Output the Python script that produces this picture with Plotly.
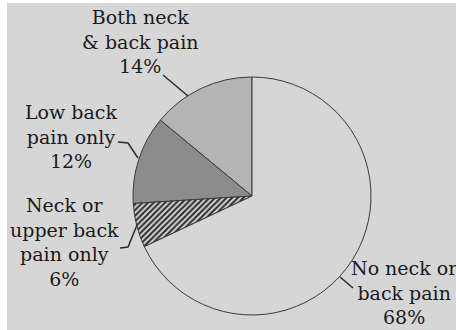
import plotly.graph_objects as go

# Data
categories = ["Both neck & back pain", "Low back pain only", "Neck or upper back pain only", "No neck or back pain"]
values = [14, 12, 6, 68]
label_texts = ["Both neck<br>& back pain<br>14%",
               "Low back<br>pain only<br>12%",
               "Neck or<br>upper back<br>pain only<br>6%",
               "No neck or<br>back pain<br>68%"]

W, H = 456, 330
BG = "#d6d6d6"

def px(x):
    return x / W

def py(y):
    return 1 - y / H

cx, cy, r = 252, 196, 119

# plotly's counterclockwise mode ends the first slice at 12 o'clock; shift so it starts there
rot = -360.0 * values[0] / sum(values)

fig = go.Figure()
fig.add_trace(go.Pie(
    labels=categories,
    values=values,
    sort=False,
    direction="counterclockwise",
    rotation=rot,
    textinfo="none",
    hoverinfo="label+percent",
    marker=dict(
        colors=["#b4b4b4", "#8c8c8c", "#bcbcbc", "rgb(214,214,214)"],
        line=dict(color="#3a3a3a", width=1),
        pattern=dict(shape=["", "", "/", ""], fgcolor="#2a2a2a",
                     size=4, solidity=0.5),
    ),
    opacity=1,
    domain=dict(x=[px(cx - r), px(cx + r)], y=[py(cy + r), py(cy - r)]),
    showlegend=False,
))

# label positions (centre of text block, pixels) and leader line paths
label_pos = [(140, 41), (71, 136), (64, 242), (404, 292)]
leaders = [
    [(163, 75), (188, 96)],
    [(118, 142), (128, 143), (138, 158)],
    [(120, 248), (128, 247), (137, 225)],
    [(340, 277), (353, 288)],
]

annotations = []
for txt, (x, y) in zip(label_texts, label_pos):
    annotations.append(dict(
        x=px(x), y=py(y), xref="paper", yref="paper",
        text=txt, showarrow=False, xanchor="center", yanchor="middle",
        font=dict(family="DejaVu Serif", size=19, color="#1a1a1a"),
        align="center",
    ))

shapes = [
    dict(type="rect", xref="paper", yref="paper", x0=0, x1=px(7), y0=0, y1=1,
         fillcolor="white", line=dict(width=0), layer="above"),
    dict(type="rect", xref="paper", yref="paper", x0=0, x1=1, y0=py(3), y1=1,
         fillcolor="white", line=dict(width=0), layer="above"),
]
for pts in leaders:
    path = "M " + " L ".join(f"{px(x)},{py(y)}" for x, y in pts)
    shapes.append(dict(type="path", xref="paper", yref="paper", path=path,
                       line=dict(color="#2a2a2a", width=1.5)))

fig.update_layout(
    width=W, height=H,
    margin=dict(l=0, r=0, t=0, b=0),
    paper_bgcolor=BG,
    annotations=annotations,
    shapes=shapes,
)

fig.write_html("out.html")
